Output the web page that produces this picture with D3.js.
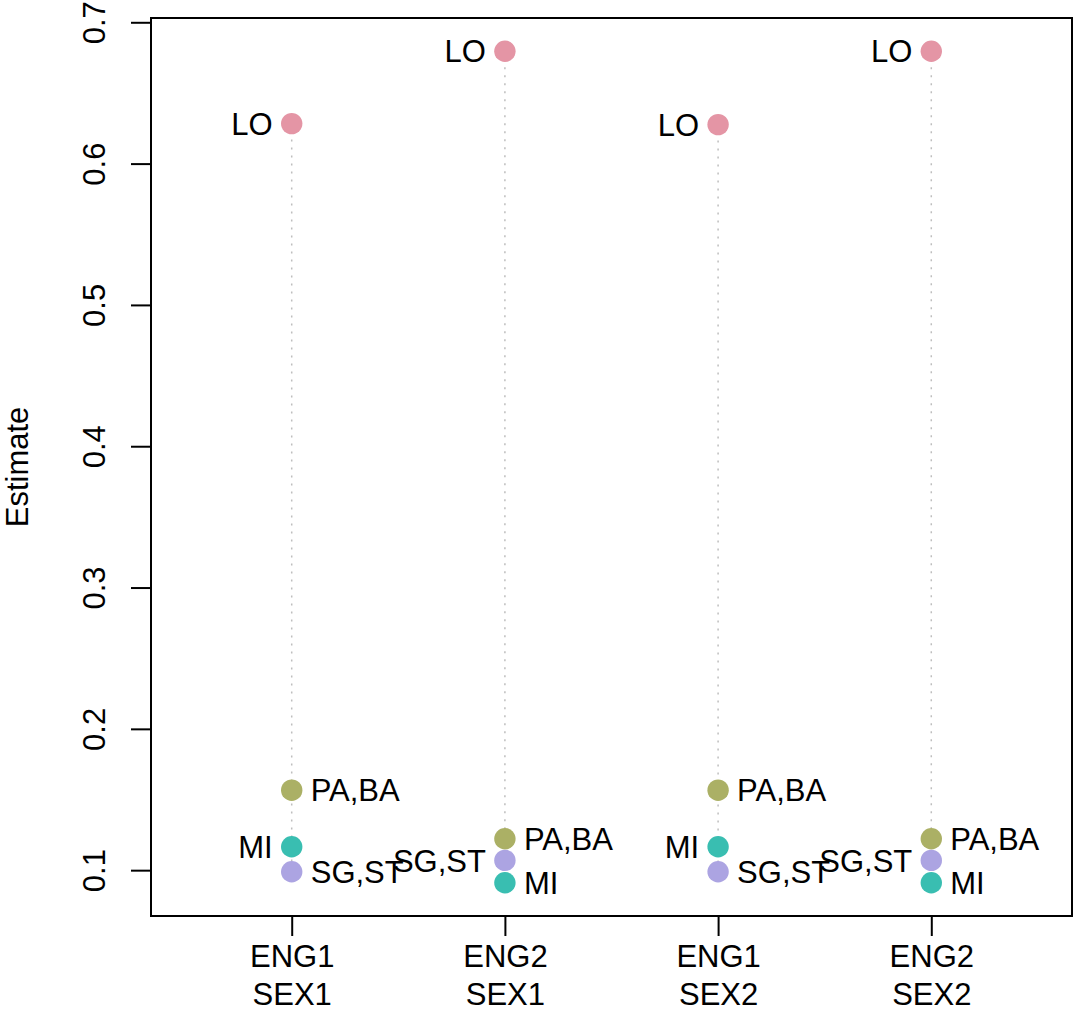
<!DOCTYPE html>
<html>
<head>
<meta charset="utf-8">
<script src="https://cdn.jsdelivr.net/npm/d3@7"></script>
<style>
  body { margin: 0; background: #fff; }
  svg text { font-family: "Liberation Sans", Arial, Helvetica, sans-serif; fill: #000; }
</style>
</head>
<body>
<div id="chart"></div>
<script>
// categories on the x axis (two label lines each)
var engLabels = ["ENG1", "ENG2", "ENG1", "ENG2"];
var sexLabels = ["SEX1", "SEX1", "SEX2", "SEX2"];

// series names and colours
var seriesNames = ["LO", "PA,BA", "MI", "SG,ST"];
var seriesColors = ["#E495A5", "#ABB065", "#39BEB1", "#ACA4E2"];

// estimates, one value per category
var loValues = [0.6283, 0.6795, 0.6276, 0.6795];
var pabaValues = [0.1566, 0.1222, 0.1566, 0.1222];
var miValues = [0.1166, 0.0911, 0.1166, 0.0911];
var sgstValues = [0.0989, 0.1069, 0.0989, 0.1069];

var yTicks = [0.1, 0.2, 0.3, 0.4, 0.5, 0.6, 0.7];

var width = 1073, height = 1013;
var box = { left: 151, right: 1072, top: 18, bottom: 916 };
var fontSize = 31;

var seriesValues = [loValues, pabaValues, miValues, sgstValues];

// flatten into points, with label side alternating by rank within category
var points = [];
engLabels.forEach(function(d, gi) {
    var grp = seriesNames.map(function(name, si) {
        return { group: gi, name: name, color: seriesColors[si], value: seriesValues[si][gi] };
    });
    grp.slice().sort(function(a, b) { return b.value - a.value; })
        .forEach(function(p, rank) { p.side = rank % 2 == 0 ? "left" : "right"; });
    points = points.concat(grp);
});

var allValues = points.map(function(p) { return p.value; });
var yMin = d3.min(allValues), yMax = d3.max(allValues);
var yPad = (yMax - yMin) * 0.04;

var x = d3.scaleLinear()
    .domain([0.5 - 0.16, engLabels.length + 0.5 + 0.16])
    .range([box.left, box.right]);
var y = d3.scaleLinear()
    .domain([yMin - yPad, yMax + yPad])
    .range([box.bottom, box.top]);

var svg = d3.select("#chart").append("svg")
    .attr("width", width)
    .attr("height", height);

// dotted guide per category from lowest to highest estimate
var ranges = engLabels.map(function(d, gi) {
    var vals = seriesValues.map(function(s) { return s[gi]; });
    return { group: gi, lo: d3.min(vals), hi: d3.max(vals) };
});
svg.append("g").selectAll("line")
    .data(ranges)
    .enter().append("line")
    .attr("x1", function(d) { return x(d.group + 1); })
    .attr("x2", function(d) { return x(d.group + 1); })
    .attr("y1", function(d) { return y(d.hi); })
    .attr("y2", function(d) { return y(d.lo); })
    .attr("stroke", "#bebebe")
    .attr("stroke-width", 1.5)
    .attr("stroke-dasharray", "2,6");

// points
svg.append("g").selectAll("circle")
    .data(points)
    .enter().append("circle")
    .attr("cx", function(d) { return x(d.group + 1); })
    .attr("cy", function(d) { return y(d.value); })
    .attr("r", 10.7)
    .attr("fill", function(d) { return d.color; });

// point labels
svg.append("g").selectAll("text")
    .data(points)
    .enter().append("text")
    .attr("x", function(d) { return x(d.group + 1) + (d.side == "left" ? -19 : 19); })
    .attr("y", function(d) { return y(d.value); })
    .attr("dy", "0.36em")
    .attr("text-anchor", function(d) { return d.side == "left" ? "end" : "start"; })
    .style("font-size", fontSize + "px")
    .text(function(d) { return d.name; });

// y axis
var yAxis = svg.append("g")
    .attr("transform", "translate(" + box.left + ",0)")
    .call(d3.axisLeft(y).tickValues(yTicks).tickSize(20).tickFormat(d3.format(".1f")));
yAxis.select(".domain").remove();
yAxis.selectAll(".tick line").attr("stroke", "#000").attr("stroke-width", 2);
yAxis.selectAll(".tick text")
    .attr("x", null).attr("dy", null)
    .attr("text-anchor", "middle")
    .attr("transform", "translate(-46,0) rotate(-90)")
    .style("font-size", fontSize + "px")
    .style("font-family", "'Liberation Sans', Arial, sans-serif");

// x axis
var xAxis = svg.append("g")
    .attr("transform", "translate(0," + box.bottom + ")")
    .call(d3.axisBottom(x).tickValues(d3.range(1, engLabels.length + 1)).tickSize(20).tickFormat(""));
xAxis.select(".domain").remove();
xAxis.selectAll(".tick line").attr("stroke", "#000").attr("stroke-width", 2);
xAxis.selectAll(".tick text").remove();
var xLab = xAxis.selectAll(".tick").append("text")
    .attr("text-anchor", "middle")
    .style("font-size", fontSize + "px")
    .style("font-family", "'Liberation Sans', Arial, sans-serif")
    .style("fill", "#000");
xLab.append("tspan").attr("x", 0).attr("y", 51)
    .text(function(d) { return engLabels[d - 1]; });
xLab.append("tspan").attr("x", 0).attr("y", 89)
    .text(function(d) { return sexLabels[d - 1]; });

// y label
svg.append("text")
    .attr("transform", "translate(28," + (box.top + box.bottom) / 2 + ") rotate(-90)")
    .attr("text-anchor", "middle")
    .style("font-size", fontSize + "px")
    .text("Estimate");

// box
svg.append("rect")
    .attr("x", box.left)
    .attr("y", box.top)
    .attr("width", box.right - box.left)
    .attr("height", box.bottom - box.top)
    .attr("fill", "none")
    .attr("stroke", "#000")
    .attr("stroke-width", 2);
</script>
</body>
</html>
